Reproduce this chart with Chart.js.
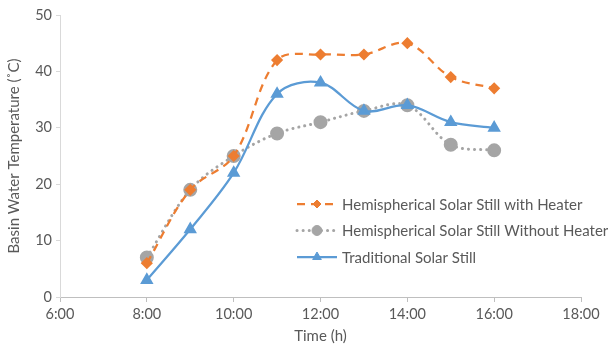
<!DOCTYPE html>
<html>
<head>
<meta charset="utf-8">
<script src="https://cdn.jsdelivr.net/npm/chart.js@4/dist/chart.umd.min.js"></script>
<style>
  html,body{margin:0;padding:0;background:#fff;}
  #wrap{width:608px;height:345px;}
</style>
</head>
<body>
<div id="wrap"><canvas id="myChart"></canvas></div>
<script>
// hours of the day
const hours = [8, 9, 10, 11, 12, 13, 14, 15, 16];
const withHeater = [6, 19, 25, 42, 43, 43, 45, 39, 37];
const withoutHeater = [7, 19, 25, 29, 31, 33, 34, 27, 26];
const traditional = [3, 12, 22, 36, 38, 33, 34, 31, 30];
const seriesNames = [
    "Hemispherical Solar Still with Heater",
    "Hemispherical Solar Still Without Heater",
    "Traditional Solar Still"
];
const xTicks = [6, 8, 10, 12, 14, 16, 18];
const yTicks = [0, 10, 20, 30, 40, 50];

function toPoints(values){
    return hours.map((h, i) => ({x: h, y: values[i]}));
}

const textColor = "#595959";
const fontName = "Lato, 'Open Sans', sans-serif";
const legendMarkerSize = [4, 5, 5];

// legend drawn inside the plot like the excel one
const insideLegend = {
    id: "insideLegend",
    afterDraw(chart){
        const ctx = chart.ctx;
        const x0 = 297, y0 = 204, rowGap = 26.5;
        ctx.save();
        chart.data.datasets.forEach((ds, i) => {
            const y = y0 + i * rowGap;
            ctx.strokeStyle = ds.borderColor;
            ctx.lineWidth = ds.borderWidth;
            ctx.lineCap = ds.borderCapStyle || "butt";
            ctx.setLineDash(ds.borderDash || []);
            ctx.beginPath();
            ctx.moveTo(x0, y);
            ctx.lineTo(x0 + 40, y);
            ctx.stroke();
            ctx.setLineDash([]);
            ctx.fillStyle = ds.pointBackgroundColor;
            ctx.strokeStyle = ds.pointBorderColor;
            ctx.lineWidth = 1;
            Chart.helpers.drawPoint(ctx, {
                pointStyle: ds.pointStyle,
                radius: legendMarkerSize[i],
                rotation: 0,
                borderWidth: 1
            }, x0 + 20, y);
            ctx.fillStyle = textColor;
            ctx.font = "15px " + fontName;
            ctx.textBaseline = "middle";
            ctx.textAlign = "left";
            ctx.fillText(ds.label, x0 + 45, y + 1);
        });
        ctx.restore();
    }
};

const ctx = document.getElementById("myChart").getContext("2d");
const myChart = new Chart(ctx, {
    type: "line",
    data: {
        datasets: [{
            label: seriesNames[0],
            data: toPoints(withHeater),
            borderColor: "#ED7D31",
            backgroundColor: "#ED7D31",
            pointBackgroundColor: "#ED7D31",
            pointBorderColor: "#ED7D31",
            borderWidth: 2.25,
            borderDash: [8, 6],
            pointStyle: "rectRot",
            pointRadius: 4.5,
            tension: 0.35,
            order: 1
        }, {
            label: seriesNames[1],
            data: toPoints(withoutHeater),
            borderColor: "#A5A5A5",
            backgroundColor: "#A5A5A5",
            pointBackgroundColor: "#A5A5A5",
            pointBorderColor: "#A5A5A5",
            borderWidth: 3,
            borderDash: [0.1, 6],
            borderCapStyle: "round",
            pointStyle: "circle",
            pointRadius: 5.5,
            tension: 0.35,
            order: 2
        }, {
            label: seriesNames[2],
            data: toPoints(traditional),
            borderColor: "#5B9BD5",
            backgroundColor: "#5B9BD5",
            pointBackgroundColor: "#5B9BD5",
            pointBorderColor: "#5B9BD5",
            borderWidth: 2.25,
            pointStyle: "triangle",
            pointRadius: 5.5,
            tension: 0.35,
            order: 0
        }]
    },
    options: {
        responsive: true,
        maintainAspectRatio: false,
        animation: false,
        layout: {padding: {top: 15, right: 27, left: 0, bottom: 0}},
        plugins: {
            legend: {display: false},
            tooltip: {enabled: false}
        },
        scales: {
            x: {
                type: "linear",
                min: 6,
                max: 18,
                afterBuildTicks: s => { s.ticks = xTicks.map(v => ({value: v})); },
                afterFit: s => { s.height = 48; },
                grid: {display: true, drawOnChartArea: false, tickLength: 5, color: "#BFBFBF"},
                border: {color: "#BFBFBF"},
                ticks: {
                    color: textColor,
                    font: {size: 14.5, family: fontName},
                    padding: 4,
                    maxRotation: 0,
                    callback: v => v + ":00"
                },
                title: {
                    display: true,
                    text: "Time (h)",
                    color: textColor,
                    font: {size: 15, family: fontName},
                    padding: {top: 0, bottom: 0}
                }
            },
            y: {
                min: 0,
                max: 50,
                afterBuildTicks: s => { s.ticks = yTicks.map(v => ({value: v})); },
                afterFit: s => { s.width = 60; },
                grid: {display: true, drawOnChartArea: false, tickLength: 4, color: "#D9D9D9"},
                border: {color: "#D9D9D9"},
                ticks: {
                    color: textColor,
                    font: {size: 14.5, family: fontName},
                    padding: 4
                },
                title: {
                    display: true,
                    text: "Basin Water Temperature (˚C)",
                    color: textColor,
                    font: {size: 15, family: fontName},
                    padding: {top: 5, bottom: 0}
                }
            }
        }
    },
    plugins: [insideLegend]
});
</script>
</body>
</html>
